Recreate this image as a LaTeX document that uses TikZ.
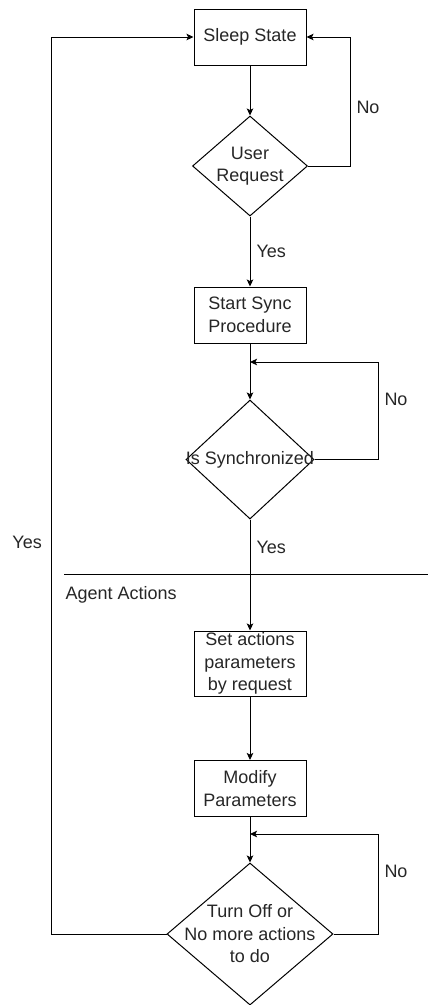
\documentclass[tikz,border=0pt]{standalone}
\usepackage{fontspec}
\setmainfont{Liberation Sans}
\usetikzlibrary{shapes.geometric,arrows.meta}
\begin{document}
\begin{tikzpicture}[x=1pt,y=-1pt,line width=1pt,
  font=\fontsize{18}{22.5}\selectfont,
  proc/.style={rectangle, draw, minimum width=112pt, minimum height=56pt, align=center, inner sep=2pt, text=black!85},
  dec/.style={diamond, draw, inner sep=0pt},
  txt/.style={align=center, text=black!85},
  flow/.style={-{Stealth[length=7pt,width=6.5pt,inset=1.5pt]}},
  lbl/.style={anchor=west, inner sep=0pt, text=black!85}]
\useasboundingbox (0,0) rectangle (428,1005);
\node[proc] (sleep) at (250,37){Sleep State};
\node[dec, minimum width=115pt, minimum height=100pt, label={[txt]center:User\\Request}] (req) at (250,166){};
\draw[flow](sleep) -- (req);
\draw[flow](req.east) -- ++(42,0) |- (sleep.east);
\node[lbl] (no1) at (356,107){No};
\node[proc] (sync) at (250,315){Start Sync\\Procedure};
\draw[flow](req) -- (sync);
\node[lbl] (yes1) at (256,251){Yes};
\node[dec, minimum width=128pt, minimum height=119pt, label={[txt]center:Is Synchronized}] (issync) at (250,459.5){};
\coordinate (j1) at (250,362);
\draw[flow](sync) -- (issync);
\draw[flow](issync.east) -- ++(64,0) |- (j1);
\node[lbl] (no2) at (384,399){No};
\node[lbl] (yes2) at (256,547){Yes};
\coordinate (sepl) at (64,574);
\coordinate (sepr) at (428,574);
\draw[](sepl) -- (sepr);
\node[lbl] (agent) at (65,595){Agent Actions};
\node[proc, minimum height=65pt, inner ysep=0pt] (setpar) at (250,663.5){Set actions\\parameters\\by request};
\draw[flow](issync) -- (setpar);
\node[proc] (modpar) at (250,788.5){Modify\\Parameters};
\draw[flow](setpar) -- (modpar);
\node[dec, minimum width=166pt, minimum height=142pt, label={[txt]center:Turn Off or\\No more actions\\to do}] (done) at (250,934){};
\coordinate (j2) at (250,834);
\draw[flow](modpar) -- (done);
\draw[flow](done.east) -- ++(45,0) |- (j2);
\node[lbl] (no3) at (384,871){No};
\draw[flow](done.west) -- ++(-115,0) |- (sleep.west);
\node[lbl] (yes3) at (12,542){Yes};
\end{tikzpicture}
\end{document}
